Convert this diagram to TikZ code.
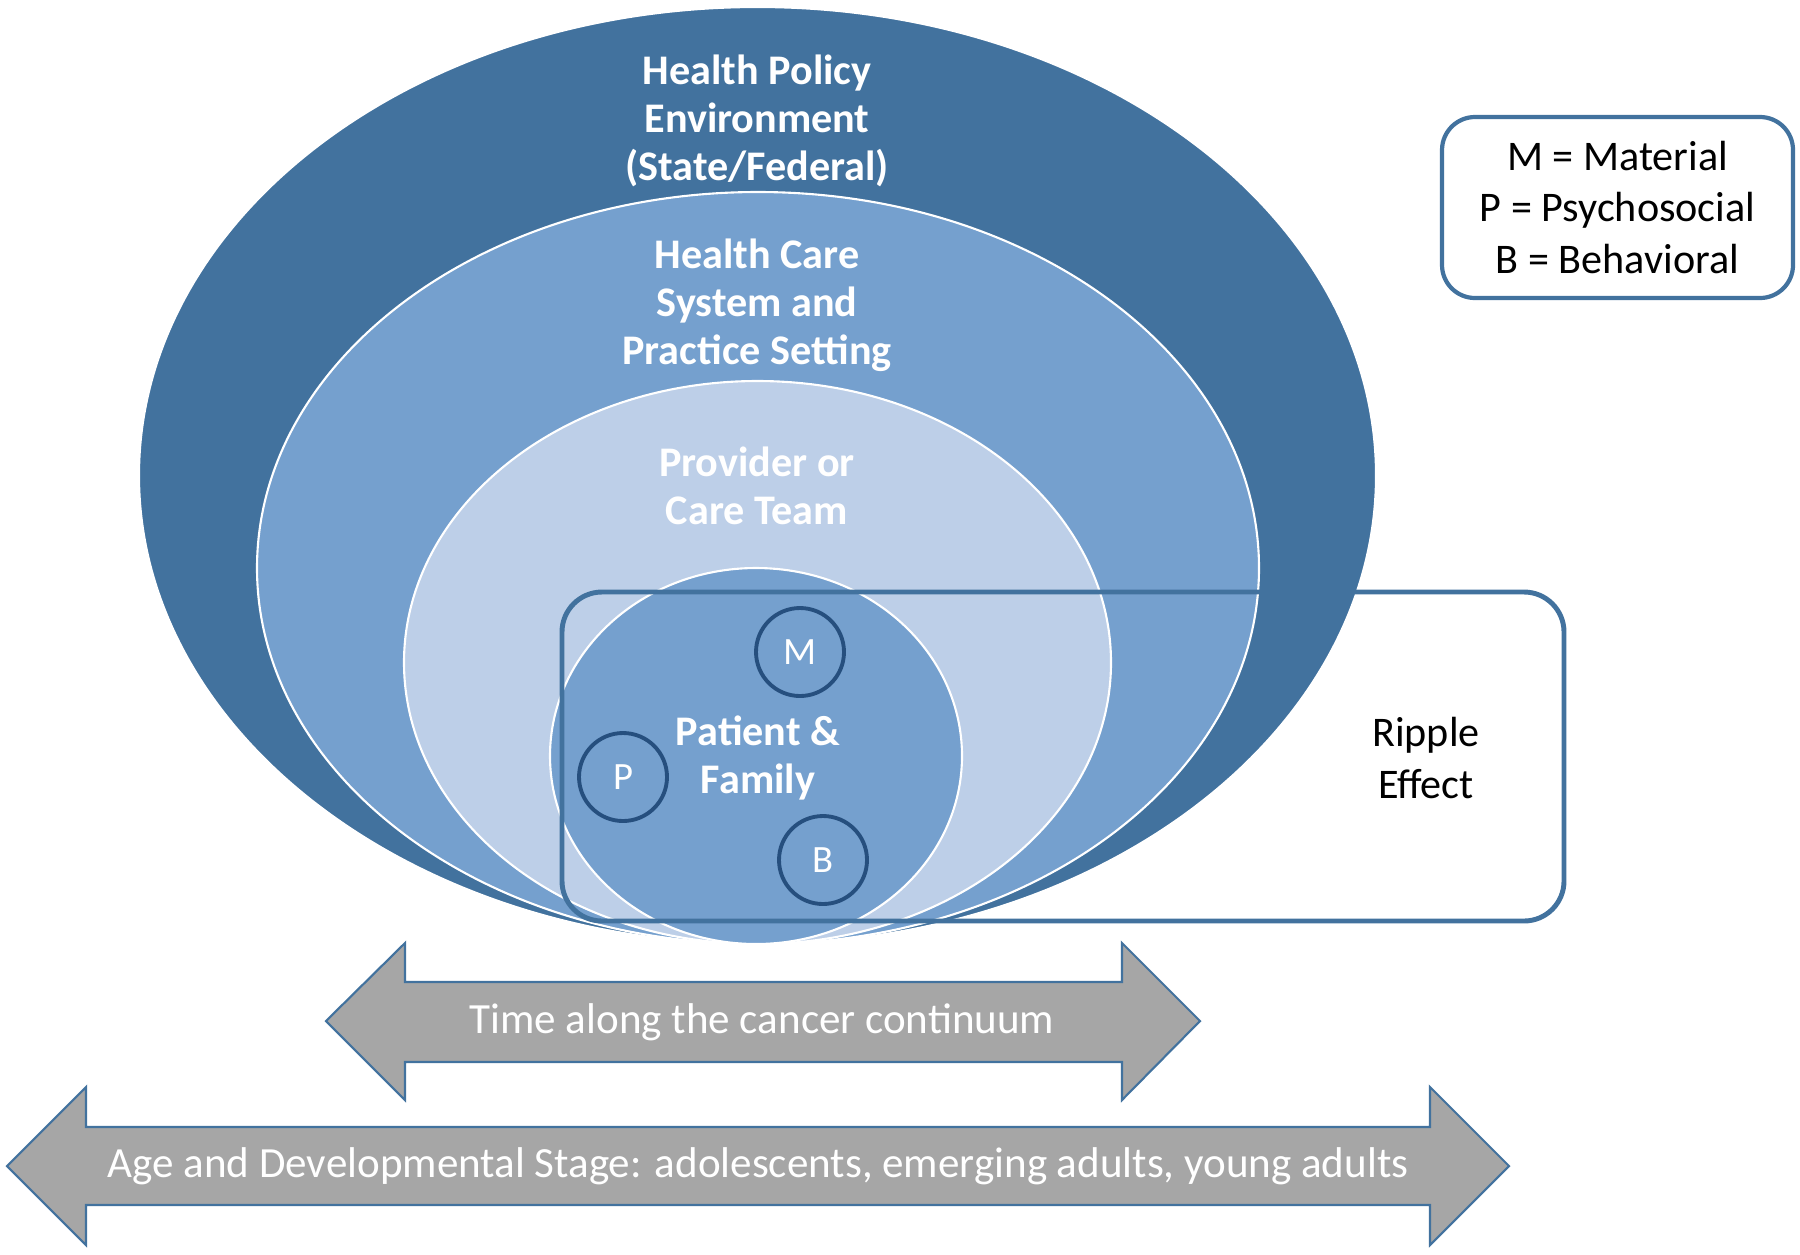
\documentclass[tikz,border=0pt]{standalone}
\usepackage{fontspec}
\setmainfont{Carlito}
\usetikzlibrary{positioning}
\definecolor{policyblue}{RGB}{66,114,158}
\definecolor{careblue}{RGB}{117,160,206}
\definecolor{teamblue}{RGB}{189,207,232}
\definecolor{letterblue}{RGB}{38,79,126}
\definecolor{arrowgray}{RGB}{166,166,166}
\begin{document}
\begin{tikzpicture}[x=0.1mm, y=-0.1mm,
                ring/.style={draw=white, line width=0.6pt},
                heading/.style={align=center, text=white, font=\fontsize{12}{13.6}\bfseries\selectfont},
                plain/.style={align=center, font=\fontsize{12}{14.7}\selectfont},
                bandtext/.style={text=white, font=\fontsize{12.25}{14.7}\selectfont},
                letter/.style={circle, draw=letterblue, line width=1.1pt, minimum size=8.8mm, inner sep=0pt, text=white, font=\fontsize{11}{12}\selectfont},
                band/.style={fill=arrowgray, draw=policyblue, line width=0.6pt}]
                \useasboundingbox (0,0) rectangle (1800,1254);
                % nested ellipses
                \fill[policyblue, ring] (757.5,475.5) ellipse [x radius=618.5, y radius=468.5];
                \fill[careblue, ring] (758,568) ellipse [x radius=501, y radius=376];
                \fill[teamblue, ring] (757.5,662.5) ellipse [x radius=353.5, y radius=281.5];
                \fill[careblue, ring] (756,756) ellipse [x radius=206, y radius=188];
                \node[heading] (policy) at (757,121) {Health Policy\\Environment\\(State/Federal)};
                \node[heading] (care) at (757,305) {Health Care\\System and\\Practice Setting};
                \node[heading] (team) at (757,486) {Provider or\\Care Team};
                \node[heading] (patient) at (758,758) {Patient \&\\Family};
                % ripple box
                \draw[policyblue, line width=1.4pt, rounded corners=4mm] (562,592) rectangle (1564,921);
                \node[plain] (ripple) at (1426,758) {Ripple\\Effect};
                \node[letter] (mat) at (800,652) {M};
                \node[letter] (psy) at (623,777) {P};
                \node[letter] (beh) at (823,860) {B};
                % legend
                \node[plain, draw=policyblue, line width=1.2pt, rounded corners=3.3mm,
                    minimum width=35.1mm, minimum height=18.1mm] (legend) at (1617.5,207.5)
                    {M = Material\\P = Psychosocial\\B = Behavioral};
                % time and age arrows
                \draw[band] (326,1021) -- (405,943) -- (405,982) -- (1122,982) -- (1122,943) -- (1200,1021)
                    -- (1122,1100) -- (1122,1062) -- (405,1062) -- (405,1100) -- cycle;
                \node[bandtext] (time) at (762,1022) {Time along the cancer continuum};
                \draw[band] (7,1166) -- (86,1087) -- (86,1127) -- (1430,1127) -- (1430,1087) -- (1509,1166)
                    -- (1430,1245) -- (1430,1205) -- (86,1205) -- (86,1245) -- cycle;
                \node[bandtext] (age) at (758,1166) {Age and Developmental Stage: adolescents, emerging adults, young adults};
            \end{tikzpicture}
\end{document}
